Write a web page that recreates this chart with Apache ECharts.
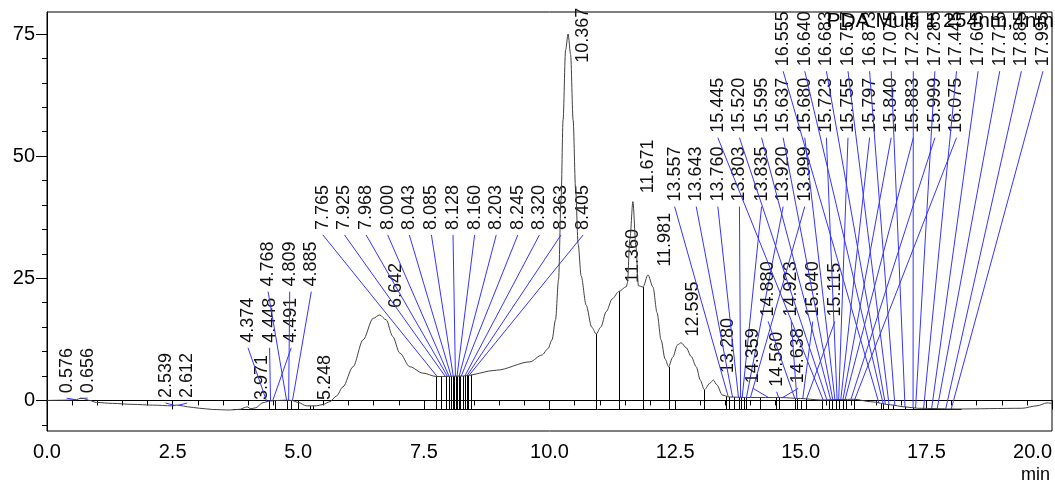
<!DOCTYPE html>
<html lang="en" style="height: 100%">
<head>
<meta charset="utf-8">
<title>PDA Multi 1 254nm,4nm</title>
</head>
<body style="height: 100%; margin: 0">
<div id="container" style="width: 1055px; height: 485px"></div>

<script type="text/javascript" src="https://cdn.jsdelivr.net/npm/echarts@6/dist/echarts.min.js"></script>

<script type="text/javascript">

// chromatogram trace (time in min, signal)
var traceTime = [0.00, 0.30, 0.50, 0.59, 0.66, 0.72, 0.85, 0.98, 1.30, 1.71, 2.10, 2.49, 2.57, 2.64, 2.80,
  3.04, 3.30, 3.64, 3.85, 3.92, 3.98, 4.06, 4.15, 4.30, 4.43, 4.60, 4.75, 4.88, 5.00, 5.16, 5.36, 5.50,
  5.63, 5.76, 5.89, 6.09, 6.29, 6.49, 6.62, 6.75, 6.88, 7.02, 7.22, 7.48, 7.75, 8.28, 8.95, 9.61, 9.85,
  9.97, 10.05, 10.12, 10.18, 10.23, 10.27, 10.32, 10.37, 10.42, 10.47, 10.52, 10.57, 10.63, 10.73, 10.84,
  10.93, 11.02, 11.13, 11.25, 11.38, 11.53, 11.55, 11.60, 11.66, 11.72, 11.77, 11.86, 11.96, 12.06, 12.14,
  12.22, 12.30, 12.37, 12.45, 12.55, 12.62, 12.72, 12.82, 12.92, 13.00, 13.08, 13.20, 13.26, 13.33, 13.44,
  13.58, 14.00, 14.60, 15.00, 15.40, 15.80, 16.06, 16.39, 16.79, 17.06, 17.33, 18.10, 19.40, 19.70, 19.90, 20.00];
var traceSignal = [0.0, 0.05, 0.1, 0.15, 0.45, 0.4, 0.0, -0.4, -0.6, -0.8, -0.95, -1.1, -0.95, -1.0, -1.3,
  -1.6, -1.85, -1.95, -1.8, -1.5, -1.3, -1.7, -1.5, -0.45, -0.1, 0.0, 0.05, 0.0, -0.4, -1.1, -1.1, -0.8,
  -0.25, 0.9, 2.8, 6.9, 12.4, 16.8, 17.5, 16.5, 13.1, 9.7, 6.9, 5.6, 4.9, 5.0, 6.2, 7.9, 9.3,
  10.6, 12.4, 16.5, 24.7, 41.1, 57.4, 71.7, 75.0, 70.8, 57.4, 43.1, 32.0, 25.5, 19.5, 15.0,
  13.6, 15.0, 18.2, 20.8, 22.3, 23.3, 24.0, 33.0, 40.7, 31.5, 23.5, 23.2, 25.7, 23.2, 18.0,
  12.4, 8.5, 6.9, 8.8, 11.4, 11.8, 10.8, 9.0, 6.9, 4.2, 2.2, 3.6, 4.2, 3.2, 1.1,
  0.7, 0.6, 0.6, 0.4, 0.1, 0.2, 0.25, -0.25, -0.9, -1.3, -1.6, -1.75, -1.6, -1.1, -0.5, -0.6];

// peak table: retention time, label text, where the label sits, leader line or not
var peakTimes = [0.576, 0.656, 2.539, 2.612, 3.971, 4.374, 4.448, 4.491, 4.768, 4.809, 4.885, 5.248, 6.642,
  7.765, 7.925, 7.968, 8.000, 8.043, 8.085, 8.128, 8.160, 8.203, 8.245, 8.320, 8.363, 8.405,
  10.367, 11.360, 11.671, 11.981, 12.595, 13.280,
  13.557, 13.643, 13.760, 13.803, 13.835, 13.920, 13.999,
  14.359, 14.560, 14.638, 14.880, 14.923, 15.040, 15.115,
  15.445, 15.520, 15.595, 15.637, 15.680, 15.723, 15.755, 15.797, 15.840, 15.883, 15.999, 16.075,
  16.555, 16.640, 16.683, 16.757, 16.873, 17.075, 17.235, 17.285, 17.445, 17.605, 17.715, 17.885, 17.995];
var peakNames = ['0.576', '0.656', '2.539', '2.612', '3.971', '4.374', '4.448', '4.491', '4.768', '4.809', '4.885', '5.248', '6.642',
  '7.765', '7.925', '7.968', '8.000', '8.043', '8.085', '8.128', '8.160', '8.203', '8.245', '8.320', '8.363', '8.405',
  '10.367', '11.360', '11.671', '11.981', '12.595', '13.280',
  '13.557', '13.643', '13.760', '13.803', '13.835', '13.920', '13.999',
  '14.359', '14.560', '14.638', '14.880', '14.923', '15.040', '15.115',
  '15.445', '15.520', '15.595', '15.637', '15.680', '15.723', '15.755', '15.797', '15.840', '15.883', '15.999', '16.075',
  '16.555', '16.640', '16.683', '16.757', '16.873', '17.075', '17.235', '17.285', '17.445', '17.605', '17.715', '17.885', '17.995'];
var labelTime = [0.39, 0.81, 2.36, 2.79, 4.27, 4.00, 4.43, 4.86, 4.40, 4.83, 5.26, 5.53, 6.95,
  5.49, 5.92, 6.35, 6.78, 7.21, 7.65, 8.08, 8.51, 8.94, 9.37, 9.80, 10.23, 10.67,
  10.67, 11.66, 11.96, 12.29, 12.86, 13.55,
  12.49, 12.92, 13.35, 13.78, 14.22, 14.65, 15.08,
  14.05, 14.52, 14.95, 14.35, 14.81, 15.24, 15.68,
  13.35, 13.78, 14.22, 14.65, 15.08, 15.51, 15.94, 16.37, 16.80, 17.24, 17.67, 18.10,
  14.65, 15.08, 15.51, 15.94, 16.37, 16.80, 17.24, 17.67, 18.10, 18.53, 18.96, 19.39, 19.82];
var labelLevel = [1.5, 1.5, 0.5, 0.5, 0.1, 11.8, 11.8, 11.8, 23.3, 23.3, 23.3, 0.1, 18.9,
  34.9, 34.9, 34.9, 34.9, 34.9, 34.9, 34.9, 34.9, 34.9, 34.9, 34.9, 34.9, 34.9,
  69.1, 24.1, 42.4, 27.4, 13.1, 5.6,
  40.7, 40.7, 40.7, 40.7, 40.7, 40.7, 40.7,
  3.5, 2.8, 3.5, 17.2, 17.2, 17.2, 17.2,
  54.8, 54.8, 54.8, 54.8, 54.8, 54.8, 54.8, 54.8, 54.8, 54.8, 54.8, 54.8,
  68.4, 68.4, 68.4, 68.4, 68.4, 68.4, 68.4, 68.4, 68.4, 68.4, 68.4, 68.4, 68.4];
var hasLeader = [1, 1, 1, 1, 0, 1, 1, 1, 1, 1, 1, 0, 0,
  1, 1, 1, 1, 1, 1, 1, 1, 1, 1, 1, 1, 1,
  0, 0, 0, 0, 0, 0,
  1, 1, 1, 1, 1, 1, 1,
  1, 1, 1, 1, 1, 1, 1,
  1, 1, 1, 1, 1, 1, 1, 1, 1, 1, 1, 1,
  1, 1, 1, 1, 1, 1, 1, 1, 1, 1, 1, 1, 1];

// integration marks
var dropTimes = [4.42, 4.53, 4.78, 4.86, 5.23, 5.29,
  7.75, 7.85, 7.95, 8.00, 8.03, 8.07, 8.10, 8.13, 8.16, 8.20, 8.22, 8.27, 8.31, 8.35, 8.38, 8.43,
  10.93, 11.38, 11.86, 12.37, 13.08,
  13.52, 13.57, 13.67, 13.77, 13.82, 13.88, 13.92, 14.18, 14.51, 14.56, 14.88, 14.92, 15.11, 15.43,
  15.56, 15.63, 15.70, 15.77, 15.84, 15.91, 16.05,
  16.60, 16.63, 16.73, 16.84, 17.07, 17.23, 17.43, 17.60, 17.70, 17.83, 18.00];
var baselineTimes = [3.70, 18.20];
var baselineLevel = -1.85;

var yMajorTicks = [0, 25, 50, 75];
var yMinorTicks = [-5, 5, 10, 15, 20, 30, 35, 40, 45, 55, 60, 65, 70];

var FONT = '"Liberation Sans", Arial, sans-serif';

var dom = document.getElementById('container');
var myChart = echarts.init(dom);

function signalAt(t) {
  for (var i = 1; i < traceTime.length; i++) {
    if (t <= traceTime[i]) {
      var f = (t - traceTime[i - 1]) / (traceTime[i] - traceTime[i - 1]);
      return traceSignal[i - 1] + f * (traceSignal[i] - traceSignal[i - 1]);
    }
  }
  return traceSignal[traceSignal.length - 1];
}

var traceData = traceTime.map(function (t, i) { return [t, traceSignal[i]]; });
var peakData = peakTimes.map(function (t, i) {
  return [t, signalAt(t), labelTime[i], labelLevel[i], hasLeader[i]];
});
var dropData = dropTimes.map(function (t) { return [t, signalAt(t)]; });
var baselineData = baselineTimes.map(function (t) { return [t, baselineLevel]; });

function renderDrop(params, api) {
  var top = api.coord([api.value(0), api.value(1)]);
  var bottom = api.coord([api.value(0), baselineLevel]);
  var x = Math.round(top[0]) + 0.5;
  return {
    type: 'line',
    shape: { x1: x, y1: top[1], x2: x, y2: bottom[1] },
    style: { stroke: '#000', lineWidth: 1 }
  };
}

function renderPeakLabel(params, api) {
  var i = params.dataIndex;
  var peak = api.coord([api.value(0), api.value(1)]);
  var anchor = api.coord([api.value(2), api.value(3)]);
  var children = [];
  if (api.value(4)) {
    children.push({
      type: 'line',
      shape: { x1: anchor[0], y1: anchor[1] + 5, x2: peak[0], y2: peak[1] },
      style: { stroke: '#3434ff', lineWidth: 1 }
    });
  }
  children.push({
    type: 'text',
    x: anchor[0],
    y: anchor[1],
    rotation: Math.PI / 2,
    style: {
      text: peakNames[i],
      fill: '#111',
      font: '18px ' + FONT,
      align: 'left',
      verticalAlign: 'middle'
    }
  });
  return { type: 'group', children: children };
}

var option = {
  animation: false,
  grid: {
    left: 47,
    right: 3,
    top: 12,
    bottom: 54,
    show: true,
    borderColor: '#000',
    borderWidth: 1
  },
  xAxis: {
    type: 'value',
    min: 0,
    max: 20,
    interval: 2.5,
    axisLine: { lineStyle: { color: '#000', width: 1 } },
    axisTick: { length: 9, lineStyle: { color: '#000' } },
    minorTick: { show: true, splitNumber: 5, length: 5, lineStyle: { color: '#000' } },
    axisLabel: {
      formatter: function (v) { return v.toFixed(1); },
      color: '#000',
      fontSize: 20,
      fontFamily: FONT,
      margin: 11,
      alignMaxLabel: 'right'
    },
    splitLine: { show: false }
  },
  yAxis: [{
    type: 'value',
    min: -6.25,
    max: 79.5,
    axisLine: { show: true, lineStyle: { color: '#000', width: 1 } },
    axisTick: { show: true, length: 11, customValues: yMajorTicks, lineStyle: { color: '#000' } },
    axisLabel: { customValues: yMajorTicks, color: '#000', fontSize: 20, fontFamily: FONT, margin: 12 },
    splitLine: { show: false }
  }, {
    type: 'value',
    min: -6.25,
    max: 79.5,
    position: 'left',
    axisLine: { show: false },
    axisTick: { show: true, length: 5, customValues: yMinorTicks, lineStyle: { color: '#000' } },
    axisLabel: { show: false },
    splitLine: { show: false }
  }],
  graphic: [{
    type: 'text',
    right: 1,
    top: 11,
    z: 100,
    style: { text: 'PDA Multi 1 254nm,4nm', fill: '#000', font: '21px ' + FONT }
  }, {
    type: 'text',
    right: 5,
    top: 466,
    z: 100,
    style: { text: 'min', fill: '#000', font: '18px ' + FONT }
  }],
  series: [{
    name: 'baseline',
    type: 'line',
    data: baselineData,
    showSymbol: false,
    lineStyle: { color: '#000', width: 1 },
    silent: true
  }, {
    name: 'drops',
    type: 'custom',
    renderItem: renderDrop,
    data: dropData,
    silent: true
  }, {
    name: 'PDA Multi 1',
    type: 'line',
    data: traceData,
    showSymbol: false,
    smooth: 0.3,
    smoothMonotone: 'x',
    lineStyle: { color: '#404040', width: 1 }
  }, {
    name: 'peaks',
    type: 'custom',
    renderItem: renderPeakLabel,
    data: peakData,
    silent: true
  }]
};

if (option && typeof option === 'object') {
  myChart.setOption(option);
}

window.addEventListener('resize', myChart.resize);
</script>
</body>
</html>
